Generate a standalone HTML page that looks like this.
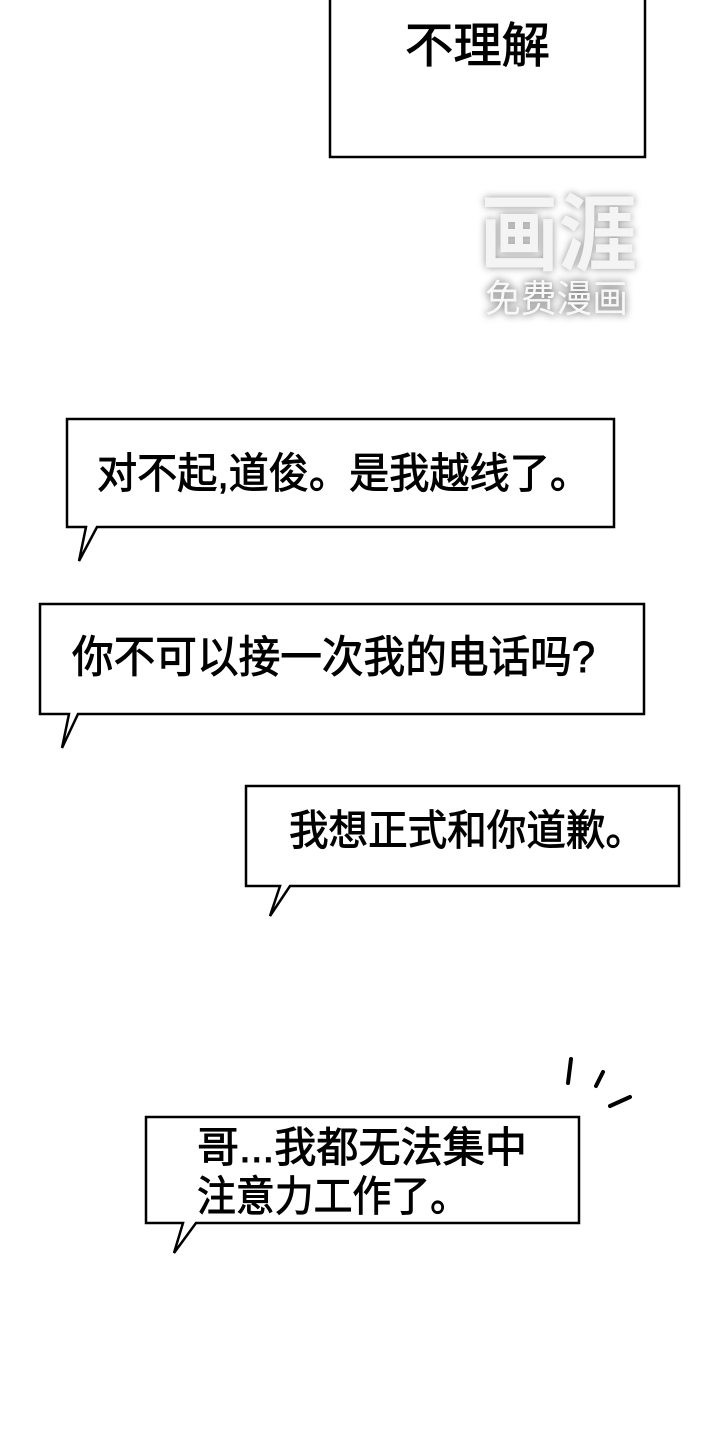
<!DOCTYPE html>
<html><head><meta charset="utf-8"><style>
html,body{margin:0;padding:0;background:#fff;width:720px;height:1440px;overflow:hidden}
svg text{font-family:"Liberation Sans","Noto Sans CJK SC",sans-serif;fill:#000;stroke:#000;stroke-width:0.9}
</style></head><body>
<svg width="720" height="1440" viewBox="0 0 720 1440" xmlns="http://www.w3.org/2000/svg">
<defs><filter id="b"><feGaussianBlur stdDeviation="4"/></filter></defs>
<g fill="#fff" stroke="#000" stroke-width="2.5" stroke-linejoin="miter">
<rect x="330" y="-5" width="315" height="162"/>
</g>
<text x="405" y="62" font-size="48" textLength="145" lengthAdjust="spacingAndGlyphs">不理解</text>
<!-- watermark -->
<g filter="url(#b)" opacity="0.8">
<text x="480" y="264" font-size="84" font-weight="bold" style="fill:#777;stroke:none" textLength="157" lengthAdjust="spacingAndGlyphs">画涯</text>
<text x="485" y="312" font-size="38" style="fill:#777;stroke:#777;stroke-width:2" textLength="143" lengthAdjust="spacingAndGlyphs">免费漫画</text>
</g>
<text x="480" y="264" font-size="84" font-weight="bold" style="fill:#f4f4f4;stroke:none" textLength="157" lengthAdjust="spacingAndGlyphs">画涯</text>
<text x="485" y="312" font-size="38" style="fill:#f8f8f8;stroke:none" textLength="143" lengthAdjust="spacingAndGlyphs">免费漫画</text>

<g fill="#fff" stroke="#000" stroke-width="2.5" stroke-linejoin="miter">
<path d="M67,419 H614 V527 H97 L79,561 L86,527 H67 Z"/>
<path d="M40,604 H644 V714 H78 L62,748 L69,714 H40 Z"/>
<path d="M246,786 H679 V886 H290 L270,916 L280,886 H246 Z"/>
<path d="M146,1117 H579 V1223 H196 L174,1253 L183,1223 H146 Z"/>
</g>
<text x="97" y="488" font-size="42" textLength="493" lengthAdjust="spacingAndGlyphs">对不起,道俊。是我越线了。</text>
<text x="72" y="672" font-size="44" textLength="523" lengthAdjust="spacingAndGlyphs">你不可以接一次我的电话吗?</text>
<text x="289" y="845" font-size="42" textLength="356" lengthAdjust="spacingAndGlyphs">我想正式和你道歉。</text>
<text x="197" y="1162" font-size="42" textLength="330" lengthAdjust="spacingAndGlyphs">哥...我都无法集中</text>
<text x="197" y="1211" font-size="42" textLength="272" lengthAdjust="spacingAndGlyphs">注意力工作了。</text>
<g stroke="#000" stroke-width="4" stroke-linecap="round" fill="none">
<path d="M571,1059 L568,1083"/>
<path d="M603,1072 L596,1086"/>
<path d="M630,1097 L610,1106"/>
</g>
</svg>
</body></html>
